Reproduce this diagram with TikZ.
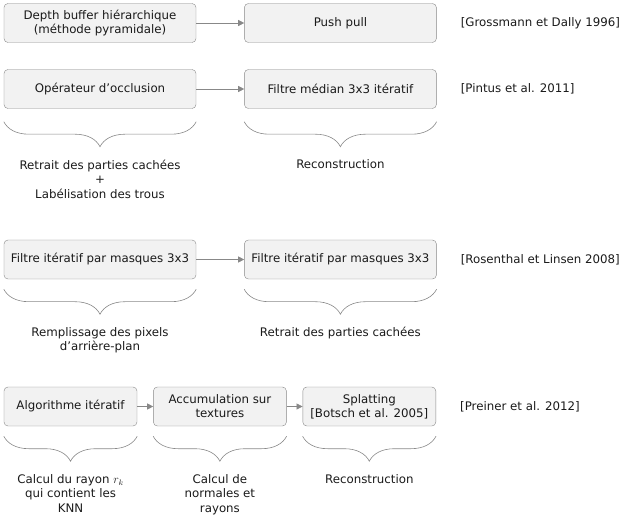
\documentclass[tikz,border=0pt]{standalone}
\usepackage{fontspec}
\setmainfont{DejaVu Sans}
\usepackage{xcolor}
\usepackage{tikz}
\usetikzlibrary{arrows.meta,positioning,decorations.pathreplacing}

\definecolor{gris}{HTML}{888888}
\definecolor{fond}{HTML}{F2F2F2}
\definecolor{texte}{HTML}{1A1A1A}

\begin{document}
\begin{tikzpicture}[x=1bp,y=-1bp,
  boite/.style={draw=gris,fill=fond,rounded corners=4bp,align=center,inner sep=2bp,
               minimum height=39bp,minimum width=192bp,text=texte,
               font=\fontsize{11.8bp}{14bp}\selectfont},
  petite/.style={boite,minimum width=133bp},
  fl/.style={-{Triangle[length=6bp,width=6bp]},semithick,gris},
  acc/.style={draw=gris,semithick,decorate,decoration={brace,mirror,amplitude=25bp}},
  leg/.style={align=center,inner sep=0pt,text=texte,font=\fontsize{11.8bp}{14.5bp}\selectfont},
  ref/.style={anchor=west,inner sep=0pt,text=texte,font=\fontsize{11.8bp}{14bp}\selectfont}]

  \useasboundingbox (0,0) rectangle (621,520);

  % Grossmann et Dally
  \node[boite] (dep) at (100,23) {Depth buffer hiérarchique\\(méthode pyramidale)};
  \node[boite,right=48bp of dep] (pp) {Push pull};
  \node[ref,right=24bp of pp] (gd) {[Grossmann et Dally 1996]};
  \draw[fl] (dep)--(pp);

  % Pintus et al.
  \node[boite] (opo) at (100,89) {Opérateur d’occlusion};
  \node[boite,right=48bp of opo] (fm) {Filtre médian 3x3 itératif};
  \node[ref,right=24bp of fm] (pin) {[Pintus et al. 2011]};
  \draw[fl] (opo)--(fm);
  \draw[acc] ([yshift=-13bp]opo.south west) -- ([yshift=-13bp]opo.south east);
  \draw[acc] ([yshift=-13bp]fm.south west) -- ([yshift=-13bp]fm.south east);
  \node[leg,below=51bp of opo] (ret) {Retrait des parties cachées\\+\\Labélisation des trous};
  \node[leg,below=51bp of fm] (rec) {Reconstruction};

  % Rosenthal et Linsen
  \node[boite] (fi1) at (100,259.5) {Filtre itératif par masques 3x3};
  \node[boite,right=48bp of fi1] (fi2) {Filtre itératif par masques 3x3};
  \node[ref,right=24bp of fi2] (rl) {[Rosenthal et Linsen 2008]};
  \draw[fl] (fi1)--(fi2);
  \draw[acc] ([yshift=-10bp]fi1.south west) -- ([yshift=-10bp]fi1.south east);
  \draw[acc] ([yshift=-10bp]fi2.south west) -- ([yshift=-10bp]fi2.south east);
  \node[leg,below=48bp of fi1] (rem) {Remplissage des pixels\\d’arrière-plan};
  \node[leg,below=48bp of fi2] (ret2) {Retrait des parties cachées};

  % Preiner et al.
  \node[petite] (alg) at (70.5,406.5) {Algorithme itératif};
  \node[petite,right=16bp of alg] (acu) {Accumulation sur\\textures};
  \node[petite,right=16bp of acu] (spl) {Splatting\\{}[Botsch et al. 2005]};
  \node[ref,right=24bp of spl] (pre) {[Preiner et al. 2012]};
  \draw[fl] (alg)--(acu); \draw[fl] (acu)--(spl);
  \draw[acc] ([yshift=-10bp]alg.south west) -- ([yshift=-10bp]alg.south east);
  \draw[acc] ([yshift=-10bp]acu.south west) -- ([yshift=-10bp]acu.south east);
  \draw[acc] ([yshift=-10bp]spl.south west) -- ([yshift=-10bp]spl.south east);
  \node[leg,below=48bp of alg] (cal) {Calcul du rayon $r_k$\\qui contient les\\KNN};
  \node[leg,below=48bp of acu] (nor) {Calcul de\\normales et\\rayons};
  \node[leg,below=48bp of spl] (rec2) {Reconstruction};
\end{tikzpicture}
\end{document}
